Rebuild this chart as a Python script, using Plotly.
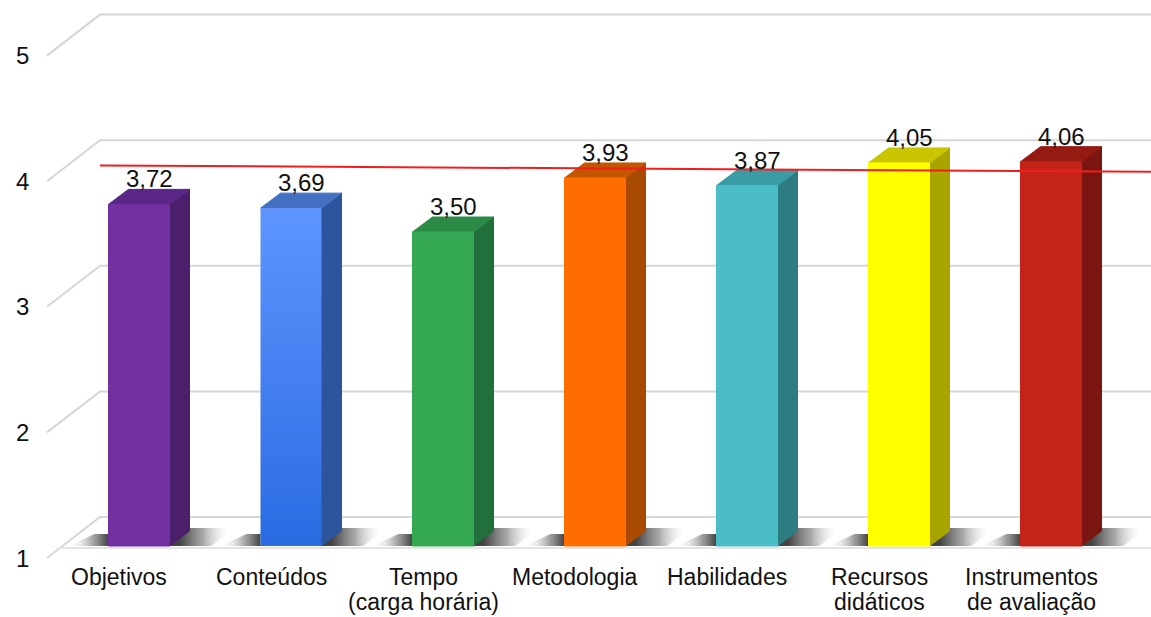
import plotly.graph_objects as go

# ---- data -------------------------------------------------------------
categorias = [
    "Objetivos",
    "Conteúdos",
    "Tempo<br>(carga horária)",
    "Metodologia",
    "Habilidades",
    "Recursos<br>didáticos",
    "Instrumentos<br>de avaliação",
]
medias = [3.72, 3.69, 3.50, 3.93, 3.87, 4.05, 4.06]
ticks_escala = [1, 2, 3, 4, 5]
# red reference line: value at its left end and at its right end
linha_referencia = [4.03, 3.98]

# face colours of each bar: front (top of face), front (bottom of face), side, top
cor_frente_alto = ["#7030A0", "#5E95FF", "#34A853", "#FF6D00", "#4BBDC7", "#FFFF00", "#C42318"]
cor_frente_baixo = ["#7030A0", "#2A6BE2", "#34A853", "#FF6D00", "#4BBDC7", "#FFFF00", "#C42318"]
cor_lateral = ["#4A1F6B", "#2C559E", "#216F3A", "#A84A00", "#2D7C82", "#A8A500", "#7A1510"]
cor_topo = ["#5A2687", "#4470C2", "#2A8A46", "#C25700", "#3A9CA4", "#C9C600", "#951A12"]

# ---- geometry (pixels) ------------------------------------------------
W, H = 1151, 617
MARGEM_B = 57
PLOT_H = H - MARGEM_B
PX_CAT = 152.0        # px between category centres
PX_UNI = 125.6        # px per scale unit
X0_PX = 139.0         # centre of the first category
BASE_PX = 546.0       # pixel row of value 1 on the front plane

def dx(px):
    return px / PX_CAT

def dv(px):
    return px / PX_UNI

x_min = dx(0 - X0_PX)
x_max = dx(W - X0_PX)
y_min = 1 + dv(BASE_PX - PLOT_H)
y_max = 1 + dv(BASE_PX)

LARG = dx(61)          # bar width
PROF_X = dx(20)        # bar depth, horizontal
PROF_Y = dv(15)        # bar depth, vertical
PAREDE_X = dx(100 - X0_PX)   # where the back wall starts
PAREDE_DV = dv(29)           # back wall rise above front plane
DIAG_X = dx(47 - X0_PX)      # front end of the side-wall lines
DIAG_DV = dv(-12)

FONTE = "Liberation Sans, Arial, sans-serif"

fig = go.Figure()

# ---- back wall gridlines and side wall diagonals ---------------------
gx, gy = [], []
for t in ticks_escala:
    gx += [DIAG_X, PAREDE_X, x_max, None]
    gy += [t + DIAG_DV, t + PAREDE_DV, t + PAREDE_DV, None]
fig.add_trace(go.Scatter(x=gx, y=gy, mode="lines",
                         line=dict(color="#D6D6D6", width=2),
                         hoverinfo="skip", showlegend=False))

# floor front edge
piso_v = 1 + dv(-2)
fig.add_trace(go.Scatter(x=[dx(57 - X0_PX), x_max], y=[piso_v, piso_v], mode="lines",
                         line=dict(color="#E4E4E4", width=2),
                         hoverinfo="skip", showlegend=False))


def poligono(xs, ys, cor=None, gradiente=None, linha=True):
    kw = dict(x=xs + [xs[0]], y=ys + [ys[0]], mode="lines", fill="toself",
              hoverinfo="skip", showlegend=False)
    if gradiente is not None:
        kw["fillgradient"] = gradiente
        kw["fillcolor"] = "rgba(0,0,0,0)"
        kw["line"] = dict(width=0)
    else:
        kw["fillcolor"] = cor
        kw["line"] = dict(color=cor, width=1 if linha else 0)
    fig.add_trace(go.Scatter(**kw))


# ---- floor shadows ----------------------------------------------------
for i, v in enumerate(medias):
    esq = i - LARG / 2
    dir_ = i + LARG / 2
    # right-hand shadow
    poligono([dir_, dir_ + PROF_X, dir_ + dx(65), dir_ + dx(42)],
             [1, 1 + dv(18), 1 + dv(18), 1],
             gradiente=dict(type="horizontal", start=dir_ + dx(10), stop=dir_ + dx(62),
                            colorscale=[[0, "rgba(45,45,45,0.9)"], [0.45, "rgba(95,95,95,0.55)"],
                                        [1, "rgba(255,255,255,0)"]]))
    # left-hand shadow
    poligono([esq - dx(40), esq - dx(14), esq, esq],
             [1, 1 + dv(12), 1 + dv(12), 1],
             gradiente=dict(type="horizontal", start=esq - dx(40), stop=esq,
                            colorscale=[[0, "rgba(255,255,255,0)"], [0.6, "rgba(95,95,95,0.55)"],
                                        [1, "rgba(45,45,45,0.9)"]]))

# ---- 3D bars ----------------------------------------------------------
for i, v in enumerate(medias):
    esq = i - LARG / 2
    dir_ = i + LARG / 2
    # side face
    poligono([dir_, dir_ + PROF_X, dir_ + PROF_X, dir_],
             [1, 1 + PROF_Y, v + PROF_Y, v], cor=cor_lateral[i])
    # top face
    poligono([esq, dir_, dir_ + PROF_X, esq + PROF_X],
             [v, v, v + PROF_Y, v + PROF_Y], cor=cor_topo[i])
    # front face
    if cor_frente_alto[i] == cor_frente_baixo[i]:
        poligono([esq, dir_, dir_, esq], [1, 1, v, v], cor=cor_frente_alto[i])
    else:
        poligono([esq, dir_, dir_, esq], [1, 1, v, v],
                 gradiente=dict(type="vertical", start=v, stop=1,
                                colorscale=[[0, cor_frente_alto[i]], [1, cor_frente_baixo[i]]]))

# ---- red reference line ----------------------------------------------
fig.add_trace(go.Scatter(x=[PAREDE_X, x_max], y=linha_referencia, mode="lines",
                         line=dict(color="#F21D1D", width=2),
                         hoverinfo="skip", showlegend=False))

anots = []
# value labels above each bar
for i, v in enumerate(medias):
    anots.append(dict(x=i + PROF_X / 2, y=v + PROF_Y, xref="x", yref="y",
                      text=f"{v:.2f}".replace(".", ","), showarrow=False,
                      xanchor="center", yanchor="bottom", yshift=-5,
                      font=dict(family=FONTE, size=24, color="#111111")))

# scale labels at the front end of the side-wall lines
for t in ticks_escala:
    anots.append(dict(x=dx(22 - X0_PX), y=t + DIAG_DV, xref="x", yref="y",
                      text=str(t), showarrow=False, xanchor="center", yanchor="middle",
                      font=dict(family=FONTE, size=24, color="#111111")))

# category labels under the floor, one annotation per text line
for i, c in enumerate(categorias):
    for k, parte in enumerate(c.split("<br>")):
        py = 577 + 25 * k
        anots.append(dict(x=i - dx(20), y=(PLOT_H - py) / PLOT_H, xref="x", yref="paper",
                          text=parte, showarrow=False, xanchor="center", yanchor="middle",
                          borderpad=0,
                          font=dict(family=FONTE, size=23, color="#111111")))

fig.update_layout(
    width=W, height=H,
    margin=dict(l=0, r=0, t=0, b=MARGEM_B),
    paper_bgcolor="white", plot_bgcolor="white",
    xaxis=dict(range=[x_min, x_max], visible=False, fixedrange=True),
    yaxis=dict(range=[y_min, y_max], visible=False, fixedrange=True),
    annotations=anots,
    showlegend=False,
)

fig.write_html("out.html")
